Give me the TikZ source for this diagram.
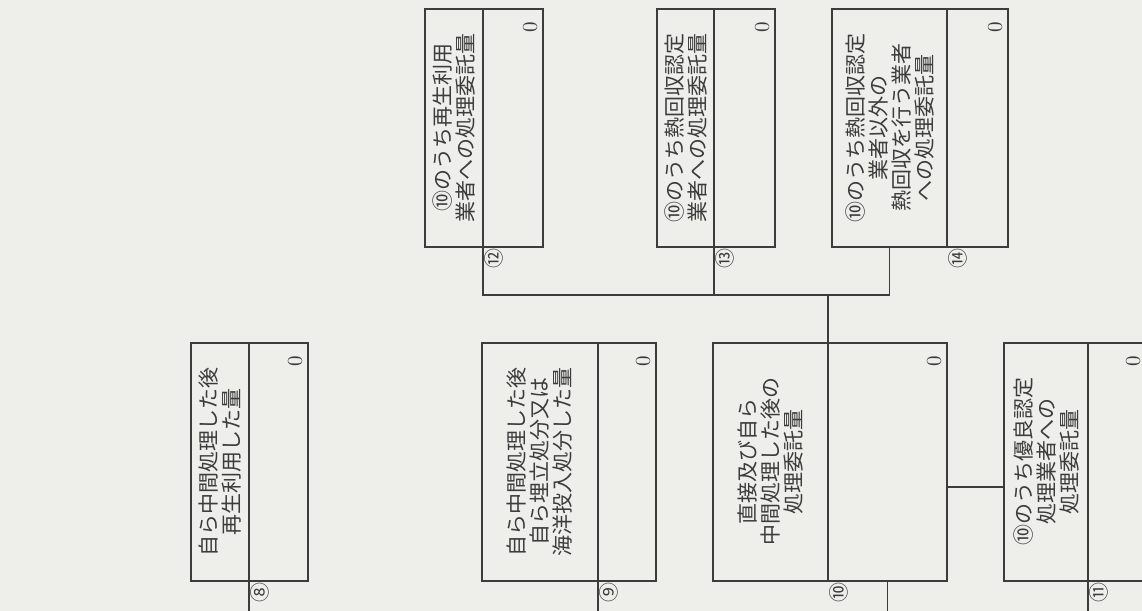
\documentclass[tikz,border=0pt]{standalone}
\usepackage{fontspec}
\newfontfamily\cjk{Noto Sans CJK JP}
\usepackage{tikz}
\usetikzlibrary{calc}
\usepackage{xcolor}
\definecolor{paper}{RGB}{238,238,235}
\definecolor{ink}{RGB}{60,60,60}

\begin{document}
\begin{tikzpicture}[
    x=1pt, y=1pt, rotate=90, transform shape,
    color=ink, line width=0.6pt,
    head/.style={draw, outer sep=0pt, inner sep=2pt, minimum width=119pt, anchor=south west,
      align=center, font=\cjk\fontsize{10.5pt}{11.5pt}\selectfont},
    amount/.style={draw, outer sep=0pt, minimum width=119pt, anchor=north west},
    zero/.style={anchor=south east, inner xsep=6pt, inner ysep=2.5pt, font=\fontsize{10.5pt}{12pt}\selectfont},
    tag/.style={anchor=north east, inner sep=0.5pt, font=\cjk\fontsize{10pt}{10pt}\selectfont}
  ]
    \path[use as bounding box, fill=paper] (0,0) rectangle (305.5,571);

    \node[head, minimum height=29pt] (L8) at (15,446.5) {自ら中間処理した後\\再生利用した量};
    \node[amount, minimum height=29.5pt] (V8) at (15,446.5) {};
    \node[head, minimum height=58pt] (L9) at (15,272) {自ら中間処理した後\\自ら埋立処分又は\\海洋投入処分した量};
    \node[amount, minimum height=29pt] (V9) at (15,272) {};
    \node[head, minimum height=57.5pt] (L10) at (15,157) {直接及び自ら\\中間処理した後の\\処理委託量};
    \node[amount, minimum height=59.5pt] (V10) at (15,157) {};
    \node[head, minimum height=42pt] (L11) at (15,27) {⑩のうち優良認定\\処理業者への\\処理委託量};
    \node[amount, minimum height=29pt] (V11) at (15,27) {};

    \node[head, minimum height=29pt] (L12) at (182,329.5) {⑩のうち再生利用\\業者への処理委託量};
    \node[amount, minimum height=30pt] (V12) at (182,329.5) {};
    \node[head, minimum height=28.5pt] (L13) at (182,214) {⑩のうち熱回収認定\\業者への処理委託量};
    \node[amount, minimum height=30.5pt] (V13) at (182,214) {};
    \node[head, minimum height=57.5pt] (L14) at (182,97.5) {⑩のうち熱回収認定\\業者以外の\\熱回収を行う業者\\への処理委託量};
    \node[amount, minimum height=30.5pt] (V14) at (182,97.5) {};

    \foreach \n in {8,...,14} {
      \node[zero] (z\n) at (V\n.south east) {0};
    }
    \node[tag] (t8) at (L8.south west) {⑧};
    \node[tag] (t9) at (L9.south west) {⑨};
    \node[tag] (t10) at (L10.south west) {⑩};
    \node[tag] (t11) at (L11.south west) {⑪};
    \node[tag] (t12) at (L12.south west) {⑫};
    \node[tag] (t13) at (L13.south west) {⑬};
    \node[tag] (t14) at (L14.south west) {⑭};

    \coordinate (in8) at (0,446.5);
    \coordinate (in9) at (0,272);
    \coordinate (in10) at (0,127.25);
    \coordinate (in11) at (0,27);
    \coordinate (b12) at (158,329.5);
    \coordinate (b13) at (158,214);
    \coordinate (b10) at (158,157);
    \coordinate (b14) at (158,126.25);

    \draw (in8) -- (L8.south west);
    \draw (in9) -- (L9.south west);
    \draw (in10) -- (V10.west);
    \draw (in11) -- (L11.south west);
    \draw (L12.south west) -- (b12) -- (b14) -- (L14.west);
    \draw (L13.south west) -- (b13);
    \draw (L10.south east) -- (b10);
    \draw ($(V10.south)+(-12.5,0)$) -- ($(L11.north)+(-12.5,0)$);
  \end{tikzpicture}
\end{document}
